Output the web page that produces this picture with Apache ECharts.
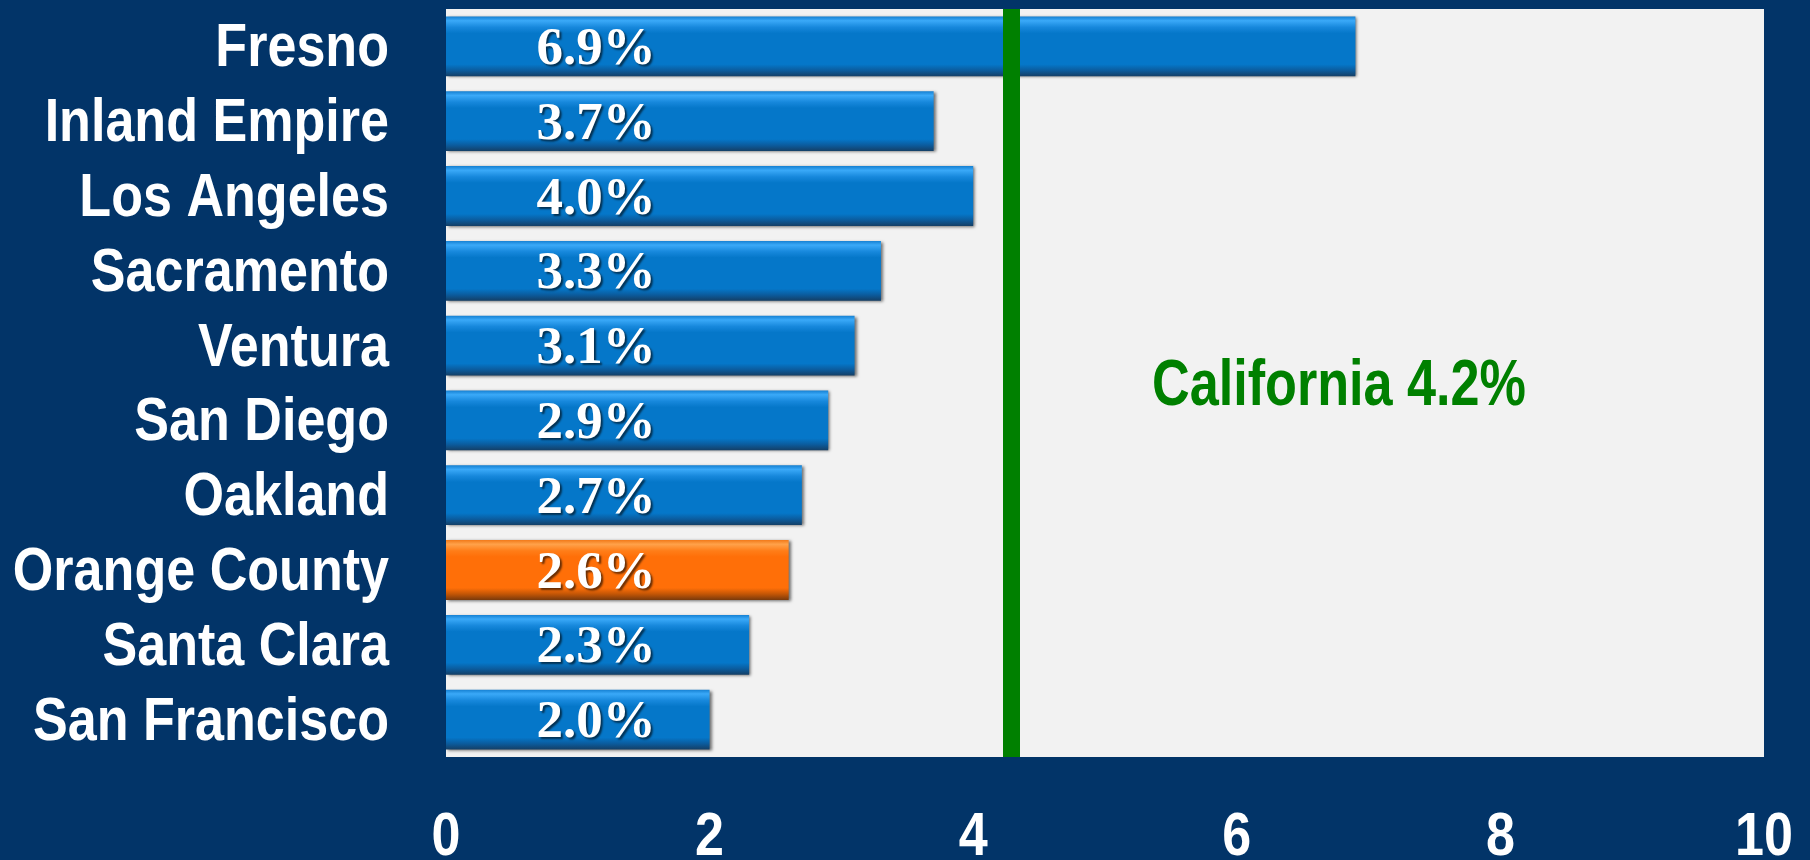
<!DOCTYPE html>
<html>
<head>
<meta charset="utf-8">
<style>
  html, body { margin: 0; padding: 0; background: #023468; }
  #chart { width: 1810px; height: 860px; }
</style>
<script src="https://cdn.jsdelivr.net/npm/echarts@6/dist/echarts.min.js"></script>
</head>
<body>
<div id="chart"></div>
<script>
// data
const regions = ['Fresno', 'Inland Empire', 'Los Angeles', 'Sacramento', 'Ventura',
  'San Diego', 'Oakland', 'Orange County', 'Santa Clara', 'San Francisco']
const rates = [6.9, 3.7, 4.0, 3.3, 3.1, 2.9, 2.7, 2.6, 2.3, 2.0]
const highlight = 'Orange County'
const stateName = 'California'
const stateRate = 4.2
const stateLineAt = 4.29   // where the green line sits in the picture
const xTicks = [0, 2, 4, 6, 8, 10]

// no narrow font installed, so squeeze Liberation Sans Bold horizontally
const sans = '"Liberation Sans", Arial, sans-serif'
const squeeze = 0.84

const blueFill = new echarts.graphic.LinearGradient(0, 0, 0, 1, [
  { offset: 0, color: '#1580d2' },
  { offset: 0.07, color: '#3aa9f8' },
  { offset: 0.18, color: '#1788dc' },
  { offset: 0.28, color: '#0577c9' },
  { offset: 0.8, color: '#0577c9' },
  { offset: 0.9, color: '#0b5c9e' },
  { offset: 1, color: '#143f66' }
])
const orangeFill = new echarts.graphic.LinearGradient(0, 0, 0, 1, [
  { offset: 0, color: '#f27a1a' },
  { offset: 0.07, color: '#ffa24a' },
  { offset: 0.18, color: '#ff7d18' },
  { offset: 0.28, color: '#ff6f08' },
  { offset: 0.8, color: '#ff6f08' },
  { offset: 0.9, color: '#c45606' },
  { offset: 1, color: '#7a3a0c' }
])

const chart = echarts.init(document.getElementById('chart'))

const option = {
  backgroundColor: '#023468',
  animation: false,
  grid: {
    left: 446,
    right: 46,
    top: 9,
    bottom: 103,
    show: true,
    backgroundColor: '#f2f2f2',
    borderWidth: 0
  },
  xAxis: {
    type: 'value',
    min: xTicks[0],
    max: xTicks[xTicks.length - 1],
    interval: xTicks[1] - xTicks[0],
    axisLine: { show: false },
    axisTick: { show: false },
    splitLine: { show: false },
    axisLabel: { show: false }
  },
  yAxis: {
    type: 'category',
    inverse: true,
    data: regions,
    axisLine: { show: false },
    axisTick: { show: false },
    axisLabel: { show: false }
  },
  series: [
    {
      type: 'bar',
      barCategoryGap: '20%',
      data: rates.map((v, i) => ({
        value: v,
        itemStyle: { color: regions[i] === highlight ? orangeFill : blueFill }
      })),
      itemStyle: {
        shadowColor: 'rgba(0, 0, 0, 0.55)',
        shadowBlur: 3,
        shadowOffsetX: 2,
        shadowOffsetY: 1
      },
      label: {
        show: true,
        position: [150, '50%'],
        offset: [0, 4],
        align: 'center',
        verticalAlign: 'middle',
        formatter: p => p.value.toFixed(1) + '%',
        color: '#fff',
        fontFamily: '"Liberation Serif", "Times New Roman", serif',
        fontWeight: 'bold',
        fontSize: 53,
        textShadowColor: 'rgba(0, 0, 0, 0.6)',
        textShadowBlur: 2,
        textShadowOffsetX: 2,
        textShadowOffsetY: 2
      },
      markLine: {
        silent: true,
        symbol: 'none',
        label: { show: false },
        lineStyle: { color: '#008000', width: 17, type: 'solid' },
        data: [{ xAxis: stateLineAt }]
      }
    }
  ]
}

chart.setOption(option)

// axis labels drawn as squeezed text, placed through the axes' own scales
const squeezedText = (text, x, y, align, size, fill) => ({
  type: 'text',
  x: x,
  y: y,
  scaleX: squeeze,
  silent: true,
  style: {
    text: text,
    x: 0,
    y: 0,
    fill: fill,
    font: 'bold ' + size + 'px ' + sans,
    align: align,
    verticalAlign: 'middle'
  }
})

const buildLabels = () => {
  const items = []
  const plotLeft = chart.convertToPixel({ xAxisIndex: 0 }, xTicks[0])
  regions.forEach(name => {
    const y = chart.convertToPixel({ yAxisIndex: 0 }, name)
    items.push(squeezedText(name, plotLeft - 57, y + 3, 'right', 62, '#fff'))
  })
  xTicks.forEach(t => {
    const x = chart.convertToPixel({ xAxisIndex: 0 }, t)
    items.push(squeezedText(String(t), x, 838, 'center', 62, '#fff'))
  })
  const cal = squeezedText(stateName + ' ' + stateRate.toFixed(1) + '%', 1339, 387, 'center', 64, '#008000')
  cal.scaleX = 0.815
  items.push(cal)
  chart.setOption({ graphic: items })
}

buildLabels()
window.addEventListener('resize', () => {
  chart.resize()
  buildLabels()
})
</script>
</body>
</html>
